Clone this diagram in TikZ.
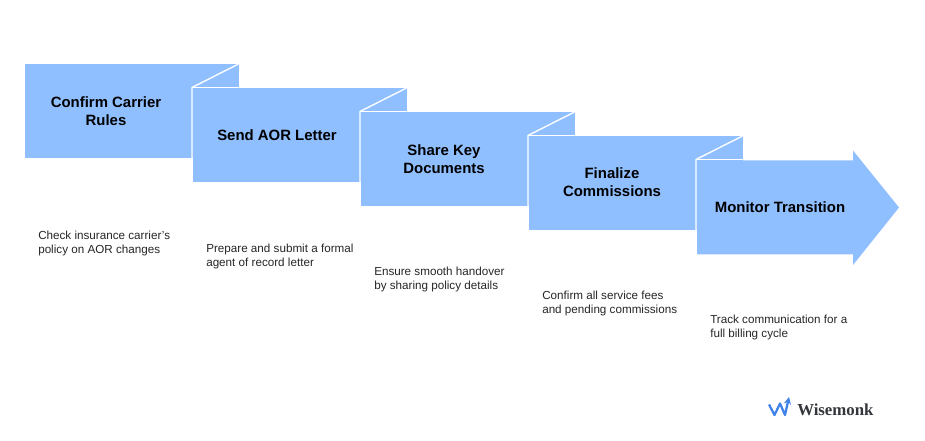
\documentclass[tikz,border=0pt]{standalone}
\usepackage{fontspec}
\setmainfont{Liberation Sans}
\newfontfamily\logofont{Liberation Serif}
\usetikzlibrary{arrows.meta,calc}
\definecolor{StepBlue}{HTML}{90BFFF}
\definecolor{LogoBlue}{HTML}{3F83E8}
\definecolor{LogoInk}{HTML}{33363B}

\begin{document}
\begin{tikzpicture}[x=0.75pt,y=-0.75pt]
    \tikzset{steptitle/.style={align=center,font=\fontsize{11.2}{13.5}\selectfont\bfseries,text=black},
      stepnote/.style={anchor=west,align=left,inner sep=0pt,font=\fontsize{8.75}{10.5}\selectfont,text=black!85},
      fold/.style={draw=white,line width=1pt}}
    \useasboundingbox (0,0) rectangle (925,441);

    % Steps with a folded corner
    \foreach \x/\y/\id in {25/64.5/a,193/88.5/b,361/112.5/c,529/136.5/d}{
      \coordinate (\id) at (\x,\y);
      \fill[StepBlue] (\id) -- ++(214,0) -- ++(0,94) -- ++(-214,0) -- cycle;
      \ifx\id a\else
        \draw[fold] ($(\id)+(-1,94)$) -- ($(\id)+(-1,-1)$) -- ++(46.5,-23.5);
        \draw[fold] ($(\id)+(-1,-1)$) -- ++(47,0);
      \fi
    }

    % Arrow head step
    \coordinate (e) at (697,160.5);
    \fill[StepBlue] (e) -- ++(156,0) -- ++(0,-10) -- (899,207.5) -- (853,265) -- (853,254.5) -- (697,254.5) -- cycle;
    \draw[fold] ($(e)+(-1,94)$) -- ($(e)+(-1,-1)$) -- ++(46.5,-23.5);
    \draw[fold] ($(e)+(-1,-1)$) -- ++(47,0);

    % Titles
    \node[steptitle] (title1) at (106,111) {Confirm Carrier\\Rules};
    \node[steptitle] (title2) at (277,135) {Send AOR Letter};
    \node[steptitle] (title3) at (444,159) {Share Key\\Documents};
    \node[steptitle] (title4) at (612,182.5) {Finalize\\Commissions};
    \node[steptitle] (title5) at (780,207) {Monitor Transition};

    % Notes
    \node[stepnote] (note1) at (38,243) {Check insurance carrier's\\policy on AOR changes};
    \node[stepnote] (note2) at (206,256) {Prepare and submit a formal\\agent of record letter};
    \node[stepnote] (note3) at (374,279) {Ensure smooth handover\\by sharing policy details};
    \node[stepnote] (note4) at (542,303) {Confirm all service fees\\and pending commissions};
    \node[stepnote] (note5) at (710,327) {Track communication for a\\full billing cycle};

    % Logo
    \draw[LogoBlue,line width=1.7pt,line join=round,-{Stealth[length=5.5pt,width=5.5pt]}]
      (769,404.5) -- (774.5,415) -- (780,403.5) -- (785,415) -- (789,397);
    \node[anchor=west,inner sep=0pt,text=LogoInk,font=\logofont\fontsize{12.6}{13}\selectfont\bfseries] (logo) at (797,410) {Wisemonk};
  \end{tikzpicture}
\end{document}
